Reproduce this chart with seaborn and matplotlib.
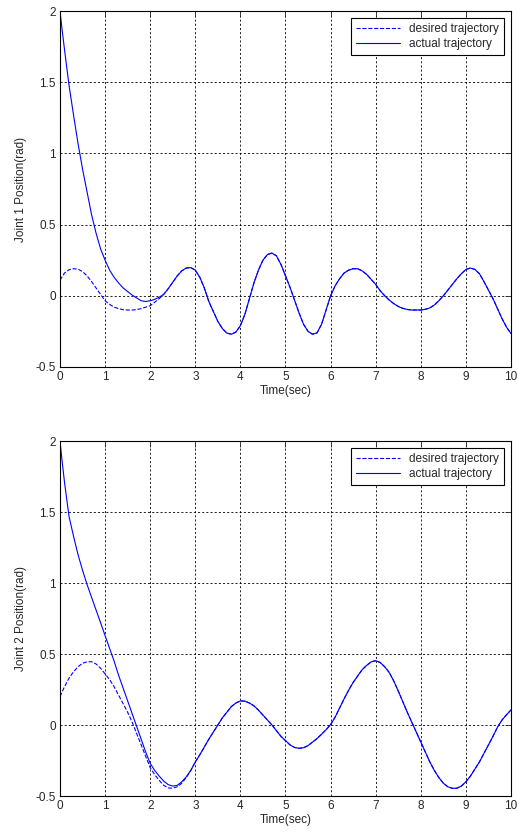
import numpy as np
import pandas as pd
import matplotlib
matplotlib.use("Agg")
import matplotlib.pyplot as plt
import matplotlib.ticker as mticker
import seaborn as sns

sns.set_style("white")
plt.rcParams["font.family"] = ["Liberation Sans", "DejaVu Sans"]
plt.rcParams["axes.unicode_minus"] = False

# time axis of the readings (every 0.1 s)
t = [round(0.1 * i, 1) for i in range(101)]

# Joint 1: desired trajectory
q1_des = [0.11, 0.16, 0.183, 0.19, 0.187, 0.17, 0.14, 0.10, 0.055, 0.01,
          -0.035, -0.06, -0.08, -0.09, -0.098, -0.10, -0.10, -0.097, -0.09, -0.08,
          -0.07, -0.045, -0.02, 0.01, 0.05, 0.095, 0.14, 0.175, 0.195, 0.198,
          0.18, 0.13, 0.055, -0.04, -0.11, -0.18, -0.23, -0.262, -0.27, -0.255,
          -0.21, -0.13, -0.02, 0.09, 0.18, 0.25, 0.29, 0.30, 0.28, 0.22,
          0.14, 0.06, -0.03, -0.12, -0.20, -0.25, -0.27, -0.26, -0.20, -0.10,
          0.0, 0.07, 0.12, 0.16, 0.18, 0.19, 0.19, 0.175, 0.15, 0.115,
          0.08, 0.035, 0.0, -0.03, -0.055, -0.075, -0.088, -0.096, -0.10, -0.10,
          -0.10, -0.095, -0.085, -0.065, -0.035, 0.0, 0.04, 0.08, 0.12, 0.155,
          0.185, 0.195, 0.185, 0.155, 0.10, 0.04, -0.02, -0.09, -0.16, -0.22,
          -0.265]

# Joint 1: actual trajectory up to where it joins the desired one (t = 0 .. 2.2)
q1_act_start = [2.0, 1.73, 1.48, 1.27, 1.07, 0.89, 0.73, 0.57, 0.44, 0.33,
                0.25, 0.18, 0.13, 0.09, 0.055, 0.03, 0.005, -0.015, -0.035, -0.04,
                -0.035, -0.025, -0.01]

# Joint 2: desired trajectory
q2_des = [0.20, 0.27, 0.33, 0.375, 0.41, 0.435, 0.445, 0.446, 0.43, 0.40,
          0.36, 0.32, 0.27, 0.21, 0.15, 0.09, 0.02, -0.06, -0.14, -0.22,
          -0.30, -0.35, -0.39, -0.425, -0.443, -0.445, -0.435, -0.41, -0.37, -0.32,
          -0.26, -0.21, -0.155, -0.10, -0.05, 0.0, 0.05, 0.09, 0.13, 0.155,
          0.17, 0.168, 0.155, 0.135, 0.105, 0.07, 0.035, 0.0, -0.04, -0.08,
          -0.11, -0.14, -0.158, -0.164, -0.16, -0.145, -0.12, -0.095, -0.065, -0.033,
          0.003, 0.055, 0.12, 0.185, 0.245, 0.30, 0.345, 0.39, 0.42, 0.445,
          0.453, 0.44, 0.41, 0.37, 0.31, 0.24, 0.165, 0.09, 0.02, -0.05,
          -0.12, -0.19, -0.26, -0.32, -0.37, -0.41, -0.435, -0.446, -0.445, -0.43,
          -0.40, -0.36, -0.31, -0.26, -0.20, -0.14, -0.08, -0.015, 0.035, 0.072,
          0.106]

# Joint 2: actual trajectory up to where it joins the desired one (t = 0 .. 2.9)
q2_act_start = [2.0, 1.71, 1.47, 1.33, 1.2, 1.09, 0.99, 0.90, 0.81, 0.72,
                0.63, 0.54, 0.45, 0.35, 0.26, 0.17, 0.08, -0.01, -0.10, -0.19,
                -0.27, -0.32, -0.36, -0.395, -0.42, -0.43, -0.425, -0.40, -0.365, -0.32]

# the very first instants of the actual curves drop steeply
t_early = [0.05]
q1_early = [1.86]
q2_early = [1.85]


def actual_series(q_start, q_des, t_e, q_e):
    n = len(q_start)
    tt = [t[0]] + t_e + t[1:]
    qq = [q_start[0]] + q_e + list(q_start[1:]) + list(q_des[n:])
    return pd.DataFrame({"t": tt, "q": qq})


panels = [
    (pd.DataFrame({"t": t, "q": q1_des}),
     actual_series(q1_act_start, q1_des, t_early, q1_early),
     "Joint 1 Position(rad)"),
    (pd.DataFrame({"t": t, "q": q2_des}),
     actual_series(q2_act_start, q2_des, t_early, q2_early),
     "Joint 2 Position(rad)"),
]

fig = plt.figure(figsize=(5.18, 8.35), dpi=100)
ax_rects = [[0.1158, 0.5605, 0.8707, 0.4263], [0.1158, 0.0467, 0.8707, 0.4251]]

for rect, (des, act, ylab) in zip(ax_rects, panels):
    ax = fig.add_axes(rect)
    sns.lineplot(data=des, x="t", y="q", ax=ax, color="blue", linestyle="--",
                 linewidth=0.8, label="desired trajectory", estimator=None, sort=False)
    sns.lineplot(data=act, x="t", y="q", ax=ax, color="blue", linestyle="-",
                 linewidth=0.8, label="actual trajectory", estimator=None, sort=False)
    ax.set_xlim(0, 10)
    ax.set_ylim(-0.5, 2)
    ax.set_xticks(np.arange(0, 11, 1))
    ax.set_yticks(np.arange(-0.5, 2.01, 0.5))
    ax.yaxis.set_major_formatter(mticker.FormatStrFormatter("%g"))
    ax.grid(True, color="black", linestyle=(0, (2.5, 2.5)), linewidth=0.6)
    ax.set_axisbelow(True)
    ax.tick_params(direction="in", length=4, width=0.6, labelsize=8.5,
                   top=True, right=True, pad=3)
    for sp in ax.spines.values():
        sp.set_color("black")
        sp.set_linewidth(0.8)
    ax.set_xlabel("Time(sec)", fontsize=8.5, labelpad=1)
    ax.set_ylabel(ylab, fontsize=8.5, labelpad=6)
    leg = ax.legend(loc="upper right", fontsize=8.5, handlelength=3.7,
                    fancybox=False, framealpha=1, edgecolor="black",
                    borderaxespad=0.6, borderpad=0.4, labelspacing=0.3)
    leg.get_frame().set_linewidth(0.8)

fig.savefig("out.png", dpi=100)
